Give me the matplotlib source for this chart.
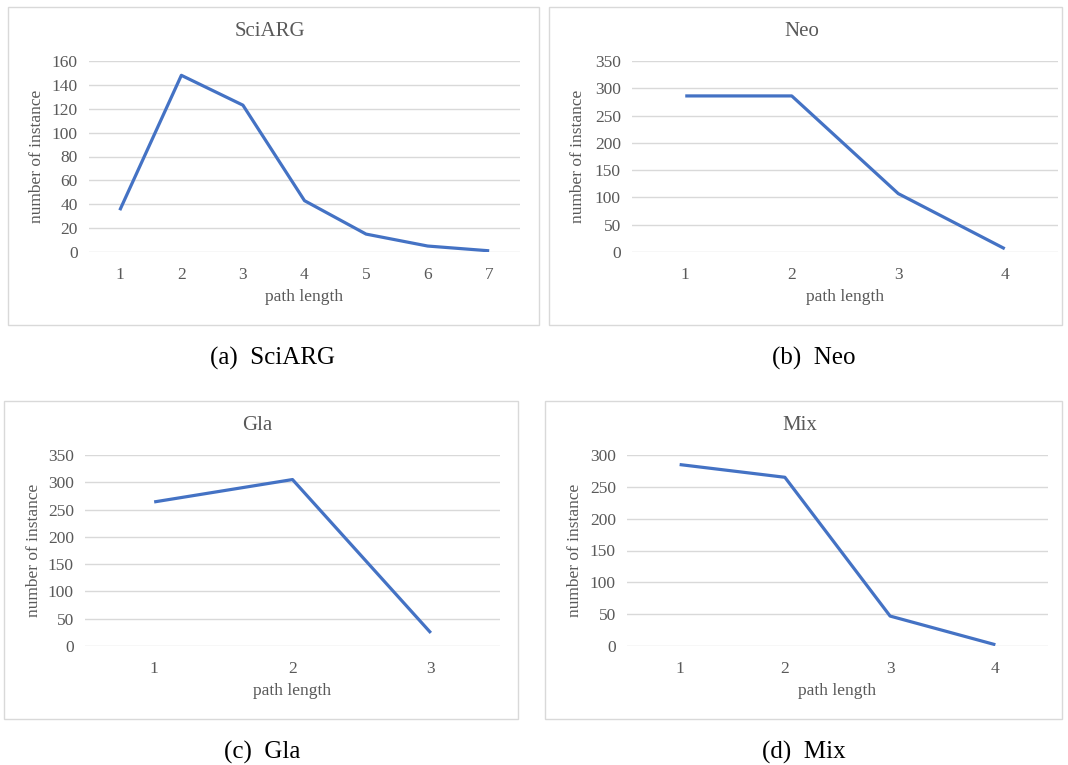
import matplotlib
matplotlib.use("Agg")
import matplotlib.pyplot as plt
from matplotlib.patches import Rectangle

plt.rcParams['font.family'] = ['Liberation Serif', 'DejaVu Serif']

W, H = 1068, 765

sciarg_x = ["1", "2", "3", "4", "5", "6", "7"]
sciarg_y = [35, 148, 123, 43, 15, 5, 1]
neo_x = ["1", "2", "3", "4"]
neo_y = [286, 286, 107, 6]
gla_x = ["1", "2", "3"]
gla_y = [264, 305, 24]
mix_x = ["1", "2", "3", "4"]
mix_y = [285, 265, 47, 2]

titles = ["SciARG", "Neo", "Gla", "Mix"]
captions = ["(a)  SciARG", "(b)  Neo", "(c)  Gla", "(d)  Mix"]
yticks = [list(range(0, 161, 20)), list(range(0, 351, 50)),
          list(range(0, 351, 50)), list(range(0, 301, 50))]

LINE = "#4472C4"
TXT = "#595959"
GRID = "#D9D9D9"

fig = plt.figure(figsize=(W / 100, H / 100), dpi=100)

def fr(x0, y0, x1, y1):
    return [x0 / W, 1 - y1 / H, (x1 - x0) / W, (y1 - y0) / H]

panels = [
    dict(box=(8, 7, 539, 325), area=(89, 61, 520, 252), cap=(272, 358),
         title_y=31, ylab_x=37, xlab_y=297, x=sciarg_x, y=sciarg_y),
    dict(box=(549, 7, 1062, 325), area=(632, 61, 1058, 252), cap=(814, 358),
         title_y=31, ylab_x=578, xlab_y=297, x=neo_x, y=neo_y),
    dict(box=(4, 401, 518, 719), area=(85, 455, 500, 646), cap=(262, 752),
         title_y=425, ylab_x=34, xlab_y=691, x=gla_x, y=gla_y),
    dict(box=(545, 401, 1062, 719), area=(627, 455, 1048, 646), cap=(804, 752),
         title_y=425, ylab_x=575, xlab_y=691, x=mix_x, y=mix_y),
]

for i, p in enumerate(panels):
    bx0, by0, bx1, by1 = p["box"]
    fig.patches.append(Rectangle((bx0 / W, 1 - by1 / H), (bx1 - bx0) / W, (by1 - by0) / H,
                                 transform=fig.transFigure, fill=False,
                                 edgecolor=GRID, linewidth=1.0))
    ax0, ay0, ax1, ay1 = p["area"]
    ax = fig.add_axes(fr(ax0, ay0, ax1, ay1))
    n = len(p["x"])
    pos = list(range(1, n + 1))
    ax.plot(pos, p["y"], color=LINE, linewidth=2.3, solid_capstyle='butt',
            solid_joinstyle='round', zorder=3)
    ax.set_xlim(0.5, n + 0.5)
    yt = yticks[i]
    ax.set_ylim(yt[0], yt[-1])
    ax.set_yticks(yt)
    ax.set_yticklabels([str(v) for v in yt])
    ax.set_xticks(pos)
    ax.set_xticklabels(p["x"])
    for s in ax.spines.values():
        s.set_visible(False)
    ax.grid(axis='y', color=GRID, linewidth=1.0, zorder=0)
    ax.set_axisbelow(True)
    ax.tick_params(axis='both', length=0, colors=TXT, labelsize=12.5)
    ax.tick_params(axis='x', pad=11)
    ax.tick_params(axis='y', pad=8)
    ax.set_xlabel("path length", color=TXT, fontsize=12.5, va='center')
    ax.xaxis.set_label_coords(0.5, (ay1 - p["xlab_y"]) / (ay1 - ay0))
    ax.set_ylabel("number of instance", color=TXT, fontsize=12.5, va='center')
    ax.yaxis.set_label_coords((p["ylab_x"] - ax0) / (ax1 - ax0), 0.5)
    fig.text(((bx0 + bx1) / 2 - 4) / W, 1 - p["title_y"] / H, titles[i],
             ha='center', va='center', fontsize=15, color=TXT)
    cx, cy = p["cap"]
    fig.text(cx / W, 1 - cy / H, captions[i], ha='center', va='center',
             fontsize=18, color='black')

fig.savefig("out.png", dpi=100)
